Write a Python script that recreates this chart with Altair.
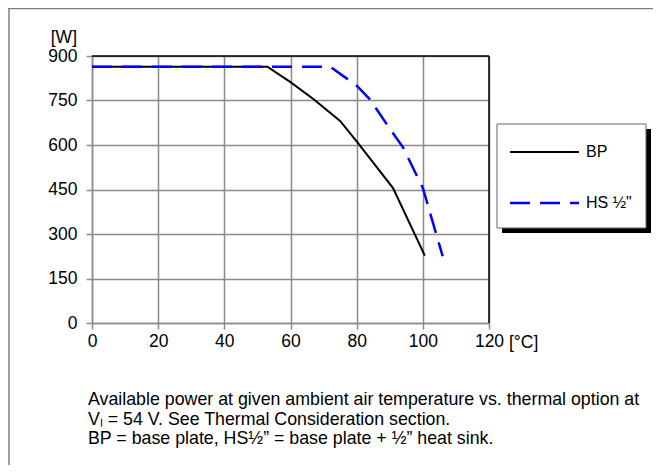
import altair as alt
import pandas as pd

# ---- data ----
bp_temp = [0, 53, 60, 67, 75, 80, 91, 100.6]
bp_power = [864, 864, 812, 754, 681, 612, 455, 227]
hs_temp = [0, 72, 80, 84, 90, 94, 100, 106]
hs_power = [864, 864, 800, 754, 655, 592, 455, 225]
series_names = ["BP", "HS ½\""]
x_ticks = [0, 20, 40, 60, 80, 100, 120]
y_ticks = [0, 150, 300, 450, 600, 750, 900]
y_unit = "[W]"
x_unit = "[°C]"
caption = [
    "Available power at given ambient air temperature vs. thermal option at",
    "V\u2097 = 54 V. See Thermal Consideration section.",
    "BP = base plate, HS½\u201d = base plate + ½\u201d heat sink.",
]

rows = []
for t, p in zip(bp_temp, bp_power):
    rows.append({"temp": t, "power": p, "series": series_names[0]})
for t, p in zip(hs_temp, hs_power):
    rows.append({"temp": t, "power": p, "series": series_names[1]})
df = pd.DataFrame(rows)

FONT = "Liberation Sans"
W, H = 397, 267
GRID = "#8a8a8a"
TICK_FS = 17.5

xs = alt.Scale(domain=[0, 120], nice=False)
ys = alt.Scale(domain=[0, 900], nice=False)

base = alt.Chart(df)

bp_line = base.transform_filter(alt.datum.series == series_names[0]).mark_line(
    color="black", strokeWidth=2
).encode(
    x=alt.X("temp:Q", scale=xs, axis=alt.Axis(values=x_ticks, title=None, labelPadding=3,
                                                labelFlush=False, gridColor=GRID)),
    y=alt.Y("power:Q", scale=ys, axis=alt.Axis(values=y_ticks, title=None, labelPadding=9,
                                                labelFlush=False, gridColor=GRID)),
    order="temp:Q",
)
hs_line = base.transform_filter(alt.datum.series == series_names[1]).mark_line(
    color="#0000ff", strokeWidth=2.5, strokeDash=[20, 10]
).encode(x=alt.X("temp:Q", scale=xs), y=alt.Y("power:Q", scale=ys), order="temp:Q")

# top and right frame lines of the plot area
top_rule = alt.Chart(pd.DataFrame({"v": [900]})).mark_rule(color="black", strokeWidth=1.5).encode(
    y=alt.Y("v:Q", scale=ys), x=alt.value(0), x2=alt.value(W)
)
right_rule = alt.Chart(pd.DataFrame({"v": [120]})).mark_rule(color="black", strokeWidth=1.5).encode(
    x=alt.X("v:Q", scale=xs), y=alt.value(0), y2=alt.value(H)
)

one = pd.DataFrame({"a": [0]})
# outer frame (left & top)
frame_left = alt.Chart(one).mark_rule(color="#808080", strokeWidth=1.5).encode(
    x=alt.value(-83), y=alt.value(-48), y2=alt.value(420)
)
frame_top = alt.Chart(one).mark_rule(color="#808080", strokeWidth=1.5).encode(
    y=alt.value(-47.5), x=alt.value(-84), x2=alt.value(570)
)

# legend box with shadow
shadow = alt.Chart(one).mark_rect(color="black").encode(
    x=alt.value(410), x2=alt.value(559), y=alt.value(73), y2=alt.value(177)
)
box = alt.Chart(one).mark_rect(fill="white", stroke="#666666", strokeWidth=1).encode(
    x=alt.value(405), x2=alt.value(554), y=alt.value(68), y2=alt.value(172)
)
leg_bp = alt.Chart(one).mark_rule(color="black", strokeWidth=2).encode(
    x=alt.value(418), x2=alt.value(487), y=alt.value(96)
)
leg_hs = alt.Chart(one).mark_rule(color="#0000ff", strokeWidth=2.5, strokeDash=[20, 10]).encode(
    x=alt.value(418), x2=alt.value(487), y=alt.value(147)
)
leg_bp_t = alt.Chart(one).mark_text(align="left", baseline="middle", font=FONT, fontSize=16).encode(
    x=alt.value(494), y=alt.value(96), text=alt.value(series_names[0])
)
leg_hs_t = alt.Chart(one).mark_text(align="left", baseline="middle", font=FONT, fontSize=16).encode(
    x=alt.value(494), y=alt.value(147), text=alt.value(series_names[1])
)

w_label = alt.Chart(one).mark_text(align="right", baseline="middle", font=FONT, fontSize=TICK_FS).encode(
    x=alt.value(-15), y=alt.value(-18), text=alt.value(y_unit)
)
c_label = alt.Chart(one).mark_text(align="left", baseline="middle", font=FONT, fontSize=TICK_FS).encode(
    x=alt.value(417), y=alt.value(287), text=alt.value(x_unit)
)
cap = alt.Chart(one).mark_text(
    align="left", baseline="alphabetic", font=FONT, fontSize=17.8, lineHeight=19.5
).encode(x=alt.value(-4), y=alt.value(349), text=alt.value(caption))

chart = alt.layer(
    frame_left, frame_top, bp_line, hs_line, top_rule, right_rule,
    shadow, box, leg_bp, leg_hs, leg_bp_t, leg_hs_t, w_label, c_label, cap
).properties(
    width=W, height=H,
    autosize=alt.AutoSizeParams(type="none"),
    padding={"left": 84, "top": 48, "right": 164, "bottom": 142},
).configure_view(stroke=None).configure_axis(
    labelFont=FONT, labelFontSize=TICK_FS, labelColor="black",
    domainColor=GRID, tickColor=GRID, tickSize=6, gridWidth=1.5, domainWidth=1.5, tickWidth=1.5,
)

chart.save("out.html", embed_options={"renderer": "svg", "actions": False})
